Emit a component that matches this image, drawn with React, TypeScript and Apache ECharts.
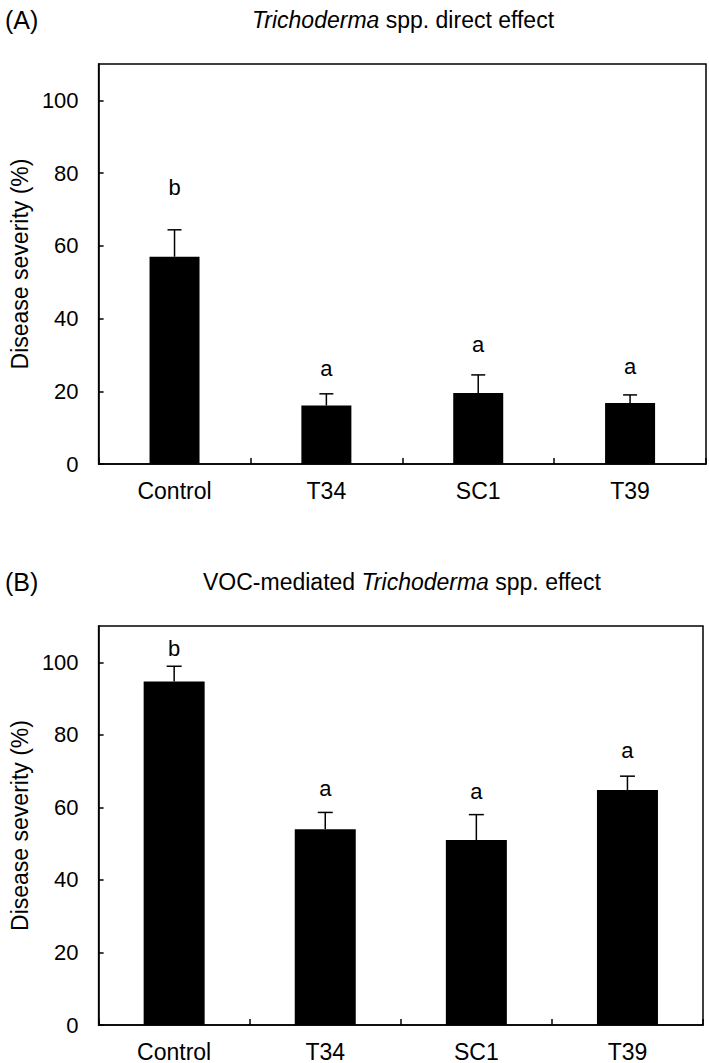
import React, { useEffect, useRef } from 'react';
import * as echarts from 'echarts';

const categories = ['Control', 'T34', 'SC1', 'T39'];

const directMeans = [57.0, 16.1, 19.5, 16.8];
const directErrors = [7.4, 3.2, 5.0, 2.2];
const directLetters = ['b', 'a', 'a', 'a'];
const directLetterY = [76.0, 26.4, 32.8, 26.9];

const vocMeans = [94.7, 54.0, 51.0, 64.8];
const vocErrors = [4.2, 4.6, 7.0, 3.8];
const vocLetters = ['b', 'a', 'a', 'a'];
const vocLetterY = [103.7, 65.1, 64.3, 75.8];

const yAxisTitle = 'Disease severity (%)';
const titleA = '{i|Trichoderma} spp. direct effect';
const titleB = 'VOC-mediated {i|Trichoderma} spp. effect';

const FONT = '"Liberation Sans", Arial, Helvetica, sans-serif';

export default function App() {
  const ref = useRef<HTMLDivElement>(null);

  useEffect(() => {
    if (!ref.current) return;
    const chart = echarts.init(ref.current, undefined, { renderer: 'svg' });

    const textBase = { fontFamily: FONT, color: '#000', fontWeight: 'normal' as const };

    const makeX = (gridIndex: number) => ({
      type: 'category' as const,
      gridIndex,
      data: categories,
      boundaryGap: true,
      axisLine: { show: true, lineStyle: { color: '#000', width: 1.5 } },
      axisTick: { show: true, inside: true, length: 6, lineStyle: { color: '#000', width: 1.5 } },
      axisLabel: { ...textBase, fontSize: 23, margin: 15 },
      splitLine: { show: false },
    });

    const makeY = (gridIndex: number) => ({
      type: 'value' as const,
      gridIndex,
      min: 0,
      max: 110,
      interval: 20,
      name: yAxisTitle,
      nameLocation: 'middle' as const,
      nameGap: 67,
      nameTextStyle: { ...textBase, fontSize: 23 },
      axisLine: { show: true, lineStyle: { color: '#000', width: 1.5 } },
      axisTick: { show: true, inside: true, length: 5, lineStyle: { color: '#000', width: 1.5 } },
      axisLabel: { ...textBase, fontSize: 22, margin: 20, showMaxLabel: false },
      splitLine: { show: false },
    });

    const errorSeries = (idx: number, means: number[], errs: number[], capHalf: number) => ({
      type: 'custom' as const,
      xAxisIndex: idx,
      yAxisIndex: idx,
      z: 5,
      clip: false,
      data: means.map((m, i) => [i, m, errs[i]]),
      encode: { x: 0, y: 1 },
      renderItem: (_params: any, api: any) => {
        const x = api.value(0);
        const m = api.value(1);
        const e = api.value(2);
        const base = api.coord([x, m]);
        const top = api.coord([x, m + e]);
        return {
          type: 'group',
          children: [
            {
              type: 'line',
              shape: { x1: base[0], y1: base[1], x2: top[0], y2: top[1] },
              style: { stroke: '#000', lineWidth: 1.5 },
            },
            {
              type: 'line',
              shape: { x1: top[0] - capHalf, y1: top[1], x2: top[0] + capHalf, y2: top[1] },
              style: { stroke: '#000', lineWidth: 1.5 },
            },
          ],
        };
      },
    });

    const letterSeries = (idx: number, ys: number[], letters: string[]) => ({
      type: 'custom' as const,
      xAxisIndex: idx,
      yAxisIndex: idx,
      z: 6,
      clip: false,
      data: ys.map((y, i) => [i, y]),
      encode: { x: 0, y: 1 },
      renderItem: (params: any, api: any) => {
        const p = api.coord([api.value(0), api.value(1)]);
        return {
          type: 'text',
          x: p[0],
          y: p[1],
          style: {
            text: letters[params.dataIndex],
            fontSize: 22,
            fontFamily: FONT,
            fill: '#000',
            align: 'center',
            verticalAlign: 'middle',
          },
        };
      },
    });

    const titleStyle = (size: number) => ({
      ...textBase,
      fontSize: size,
      rich: {
        i: { fontFamily: FONT, fontSize: size, fontStyle: 'italic', color: '#000' },
      },
    });

    chart.setOption({
      animation: false,
      backgroundColor: '#fff',
      title: [
        { text: '(A)', left: 0, top: 2, textStyle: { ...textBase, fontSize: 25 } },
        { text: titleA, left: 398, textAlign: 'center', top: 3, textStyle: titleStyle(23) },
        { text: '(B)', left: 0, top: 564, textStyle: { ...textBase, fontSize: 25 } },
        { text: titleB, left: 397, textAlign: 'center', top: 565, textStyle: titleStyle(23) },
      ],
      grid: [
        { left: 94, top: 64, width: 612, height: 400, show: true, borderColor: '#000', borderWidth: 1.5, containLabel: false },
        { left: 95, top: 626, width: 608, height: 400, show: true, borderColor: '#000', borderWidth: 1.5, containLabel: false },
      ],
      xAxis: [makeX(0), makeX(1)],
      yAxis: [makeY(0), makeY(1)],
      series: [
        {
          type: 'bar',
          xAxisIndex: 0,
          yAxisIndex: 0,
          data: directMeans,
          barWidth: 50,
          itemStyle: { color: '#000' },
        },
        errorSeries(0, directMeans, directErrors, 7),
        letterSeries(0, directLetterY, directLetters),
        {
          type: 'bar',
          xAxisIndex: 1,
          yAxisIndex: 1,
          data: vocMeans,
          barWidth: 61,
          itemStyle: { color: '#000' },
        },
        errorSeries(1, vocMeans, vocErrors, 7.5),
        letterSeries(1, vocLetterY, vocLetters),
      ],
    });

    return () => chart.dispose();
  }, []);

  return (
    <div
      ref={ref}
      style={{ position: 'fixed', left: 0, top: 0, width: 709, height: 1063, background: '#fff' }}
    />
  );
}
